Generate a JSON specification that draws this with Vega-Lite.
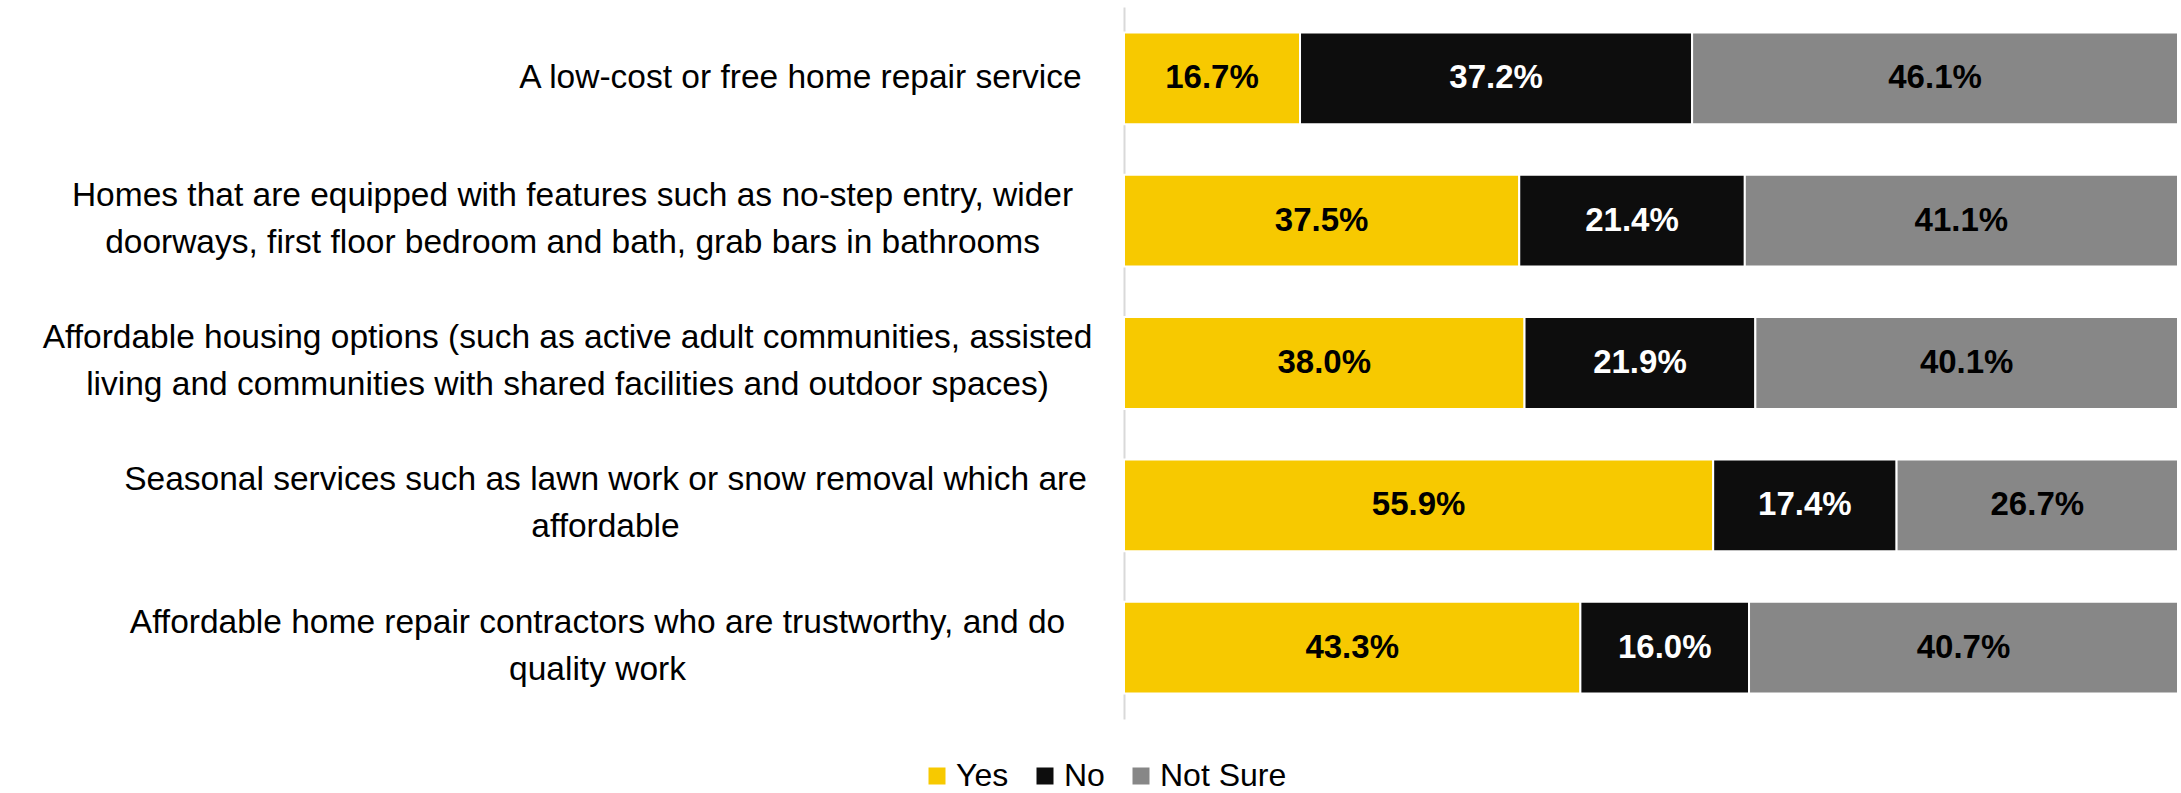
{
  "$schema": "https://vega.github.io/schema/vega-lite/v6.json",
  "width": 1054,
  "height": 712,
  "autosize": {"type": "none"},
  "padding": {"left": 1124, "top": 7, "right": 3, "bottom": 74},
  "background": "white",
  "config": {"view": {"stroke": null}, "font": "Liberation Sans"},
  "data": {
    "values": [
      {"item": "A low-cost or free home repair service", "response": "Yes", "ord": 1, "value": 0.167},
      {"item": "A low-cost or free home repair service", "response": "No", "ord": 2, "value": 0.372},
      {"item": "A low-cost or free home repair service", "response": "Not Sure", "ord": 3, "value": 0.461},
      {"item": "Homes that are equipped with features such as no-step entry, wider|doorways, first floor bedroom and bath, grab bars in bathrooms", "response": "Yes", "ord": 1, "value": 0.375},
      {"item": "Homes that are equipped with features such as no-step entry, wider|doorways, first floor bedroom and bath, grab bars in bathrooms", "response": "No", "ord": 2, "value": 0.214},
      {"item": "Homes that are equipped with features such as no-step entry, wider|doorways, first floor bedroom and bath, grab bars in bathrooms", "response": "Not Sure", "ord": 3, "value": 0.411},
      {"item": "Affordable housing options (such as active adult communities, assisted|living and communities with shared facilities and outdoor spaces)", "response": "Yes", "ord": 1, "value": 0.380},
      {"item": "Affordable housing options (such as active adult communities, assisted|living and communities with shared facilities and outdoor spaces)", "response": "No", "ord": 2, "value": 0.219},
      {"item": "Affordable housing options (such as active adult communities, assisted|living and communities with shared facilities and outdoor spaces)", "response": "Not Sure", "ord": 3, "value": 0.401},
      {"item": "Seasonal services such as lawn work or snow removal which are|affordable", "response": "Yes", "ord": 1, "value": 0.559},
      {"item": "Seasonal services such as lawn work or snow removal which are|affordable", "response": "No", "ord": 2, "value": 0.174},
      {"item": "Seasonal services such as lawn work or snow removal which are|affordable", "response": "Not Sure", "ord": 3, "value": 0.267},
      {"item": "Affordable home repair contractors who are trustworthy, and do|quality work", "response": "Yes", "ord": 1, "value": 0.433},
      {"item": "Affordable home repair contractors who are trustworthy, and do|quality work", "response": "No", "ord": 2, "value": 0.160},
      {"item": "Affordable home repair contractors who are trustworthy, and do|quality work", "response": "Not Sure", "ord": 3, "value": 0.407}
    ]
  },
  "encoding": {
    "y": {
      "field": "item",
      "type": "nominal",
      "sort": [
        "A low-cost or free home repair service",
        "Homes that are equipped with features such as no-step entry, wider|doorways, first floor bedroom and bath, grab bars in bathrooms",
        "Affordable housing options (such as active adult communities, assisted|living and communities with shared facilities and outdoor spaces)",
        "Seasonal services such as lawn work or snow removal which are|affordable",
        "Affordable home repair contractors who are trustworthy, and do|quality work"
      ],
      "scale": {"paddingInner": 0.355, "paddingOuter": 0.18},
      "axis": {
        "title": null,
        "domain": true,
        "domainColor": "#D9D9D9",
        "domainWidth": 2,
        "ticks": false,
        "labelFont": "Liberation Sans",
        "labelFontSize": 33.5,
        "labelColor": "#000000",
        "labelAlign": "center",
        "labelPadding": {
          "condition": [
            {"test": "indexof(datum.value, 'Homes') == 0", "value": 552},
            {"test": "indexof(datum.value, 'Affordable housing') == 0", "value": 557},
            {"test": "indexof(datum.value, 'Seasonal') == 0", "value": 519},
            {"test": "indexof(datum.value, 'Affordable home repair') == 0", "value": 527}
          ],
          "value": 324
        },
        "labelOffset": {
          "condition": {"test": "indexof(datum.value, '|') >= 0", "value": -25},
          "value": 0
        },
        "labelLimit": 1200,
        "labelLineHeight": 47,
        "labelExpr": "split(datum.value, '|')"
      }
    }
  },
  "layer": [
    {
      "mark": {"type": "bar", "stroke": "white", "strokeWidth": 2},
      "encoding": {
        "x": {"field": "value", "type": "quantitative", "stack": "zero", "scale": {"domain": [0, 1]}, "axis": null},
        "color": {
          "field": "response",
          "type": "nominal",
          "scale": {"domain": ["Yes", "No", "Not Sure"], "range": ["#F7C900", "#0D0D0D", "#878787"]},
          "legend": {
            "orient": "none",
            "legendX": -203,
            "legendY": 753,
            "direction": "horizontal",
            "title": null,
            "symbolType": "square",
            "symbolSize": 289,
            "symbolStrokeWidth": 0,
            "labelFont": "Liberation Sans",
            "labelFontSize": 32,
            "labelColor": "#000000",
            "labelOffset": 3,
            "columnPadding": 20,
            "padding": 0
          }
        },
        "order": {"field": "ord", "type": "quantitative"}
      }
    },
    {
      "mark": {"type": "text", "fontWeight": "bold", "fontSize": 33, "font": "Liberation Sans"},
      "encoding": {
        "x": {"field": "value", "type": "quantitative", "stack": "zero", "bandPosition": 0.5},
        "detail": {"field": "response"},
        "order": {"field": "ord", "type": "quantitative"},
        "text": {"field": "value", "type": "quantitative", "format": ".1%"},
        "color": {"condition": {"test": "datum.response === 'No'", "value": "#FFFFFF"}, "value": "#000000"}
      }
    }
  ]
}
